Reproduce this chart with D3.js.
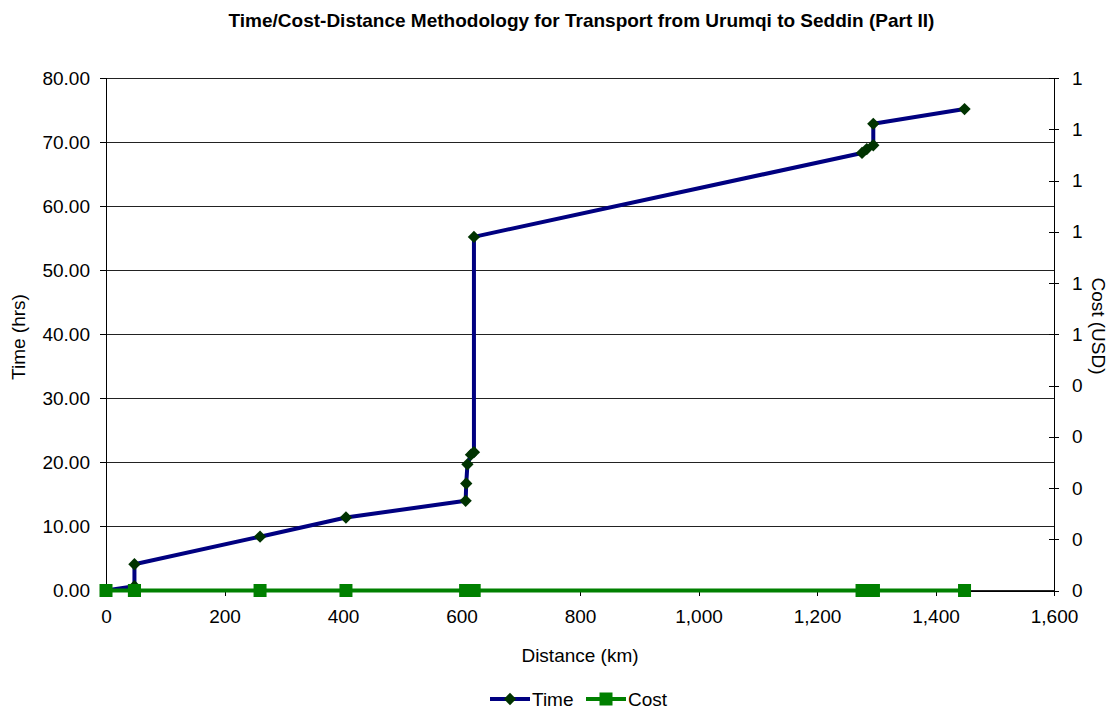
<!DOCTYPE html>
<html><head><meta charset="utf-8">
<script src="https://cdn.jsdelivr.net/npm/d3@7"></script>
<style>body{margin:0;background:#fff;} text{font-family:Arial,"Liberation Sans",sans-serif;}</style>
</head><body>
<svg id="c" width="1112" height="713"></svg>
<script>
const distance = [0, 48, 48, 260, 405, 607, 608, 610, 616, 621, 621, 1276, 1284, 1295, 1295, 1449];
const timeHrs  = [0, 0.67, 4.1, 8.4, 11.4, 14.0, 16.7, 19.7, 21.2, 21.6, 55.2, 68.3, 68.9, 69.5, 72.85, 75.15];
const costUsd  = [0, 0, 0, 0, 0, 0, 0, 0, 0, 0, 0, 0, 0, 0, 0, 0];
const xTicks = [0, 200, 400, 600, 800, 1000, 1200, 1400, 1600];
const yTicks = [0, 10, 20, 30, 40, 50, 60, 70, 80];
const y2Ticks = [0, 0.1, 0.2, 0.3, 0.4, 0.5, 0.6, 0.7, 0.8, 0.9, 1.0];
const titleText = "Time/Cost-Distance Methodology for Transport from Urumqi to Seddin (Part II)";

const svg = d3.select("#c");
const L = 106, R = 1054, T = 78, B = 590.5;
const x = d3.scaleLinear().domain([0, 1600]).range([L, R]);
const y = d3.scaleLinear().domain([0, 80]).range([B, T]);
const y2 = d3.scaleLinear().domain([0, 1]).range([B, T]);
const fs = 19;

// gridlines
svg.append("g").selectAll("line").data(yTicks).join("line")
  .attr("x1", L).attr("x2", R).attr("y1", d => y(d)).attr("y2", d => y(d))
  .attr("stroke", "#222").attr("stroke-width", 1).attr("shape-rendering", "crispEdges");

// left axis
const gl = svg.append("g").attr("transform", `translate(${L},0)`)
  .call(d3.axisLeft(y).tickValues(yTicks).tickFormat(d3.format(".2f")).tickSize(6).tickPadding(10));
gl.selectAll("text").attr("font-size", fs).attr("fill", "#000");
gl.selectAll("line,path").attr("stroke", "#000").attr("shape-rendering", "crispEdges");

// bottom axis
const gb = svg.append("g").attr("transform", `translate(0,${B})`)
  .call(d3.axisBottom(x).tickValues(xTicks).tickFormat(d3.format(",")).tickSize(5).tickSizeOuter(0).tickPadding(14));
gb.selectAll("text").attr("font-size", fs).attr("fill", "#000");
gb.selectAll("line,path").attr("stroke", "#000").attr("shape-rendering", "crispEdges");

// right axis
const gr = svg.append("g").attr("transform", `translate(${R},0)`)
  .call(d3.axisRight(y2).tickValues(y2Ticks).tickFormat(d => d3.format(".0f")(d + 1e-9)).tickSize(5).tickSizeOuter(0).tickPadding(13));
gr.selectAll(".tick line").attr("x1", -5);
gr.selectAll("text").attr("font-size", fs).attr("fill", "#000");
gr.selectAll("line,path").attr("stroke", "#000").attr("shape-rendering", "crispEdges");

// series
const idx = d3.range(distance.length);
const lineT = d3.line().x(i => x(distance[i])).y(i => y(timeHrs[i]));
const lineC = d3.line().x(i => x(distance[i])).y(i => y2(costUsd[i]));

svg.append("path").attr("d", lineT(idx)).attr("fill", "none")
  .attr("stroke", "#000080").attr("stroke-width", 4).attr("stroke-linejoin", "round");
svg.append("g").selectAll("path").data(idx).join("path")
  .attr("d", d3.symbol(d3.symbolSquare, 76)())
  .attr("transform", i => `translate(${x(distance[i])},${y(timeHrs[i])}) rotate(45)`)
  .attr("fill", "#003300");

svg.append("path").attr("d", lineC(idx)).attr("fill", "none")
  .attr("stroke", "#008000").attr("stroke-width", 4);
svg.append("g").selectAll("rect").data(idx).join("rect")
  .attr("x", i => x(distance[i]) - 6.5).attr("y", i => y2(costUsd[i]) - 6.5)
  .attr("width", 13).attr("height", 13).attr("fill", "#008000");

// titles
svg.append("text").attr("x", 581.5).attr("y", 27).attr("text-anchor", "middle")
  .attr("font-size", 19).attr("font-weight", "bold").text(titleText);
svg.append("text").attr("x", (L + R) / 2).attr("y", 662).attr("text-anchor", "middle")
  .attr("font-size", fs).text("Distance (km)");
svg.append("text").attr("transform", `translate(25,337) rotate(-90)`)
  .attr("text-anchor", "middle").attr("font-size", fs).text("Time (hrs)");
svg.append("text").attr("transform", `translate(1092,326) rotate(90)`)
  .attr("text-anchor", "middle").attr("font-size", fs).text("Cost (USD)");

// legend
const leg = svg.append("g");
leg.append("line").attr("x1", 490).attr("x2", 530).attr("y1", 699).attr("y2", 699)
  .attr("stroke", "#000080").attr("stroke-width", 4);
leg.append("path").attr("d", d3.symbol(d3.symbolSquare, 76)())
  .attr("transform", "translate(510,699) rotate(45)").attr("fill", "#003300");
leg.append("text").attr("x", 532).attr("y", 706).attr("font-size", fs).text("Time");
leg.append("line").attr("x1", 586).attr("x2", 626).attr("y1", 699).attr("y2", 699)
  .attr("stroke", "#008000").attr("stroke-width", 4);
leg.append("rect").attr("x", 599.5).attr("y", 692.5).attr("width", 13).attr("height", 13).attr("fill", "#008000");
leg.append("text").attr("x", 628).attr("y", 706).attr("font-size", fs).text("Cost");
</script>
</body></html>
